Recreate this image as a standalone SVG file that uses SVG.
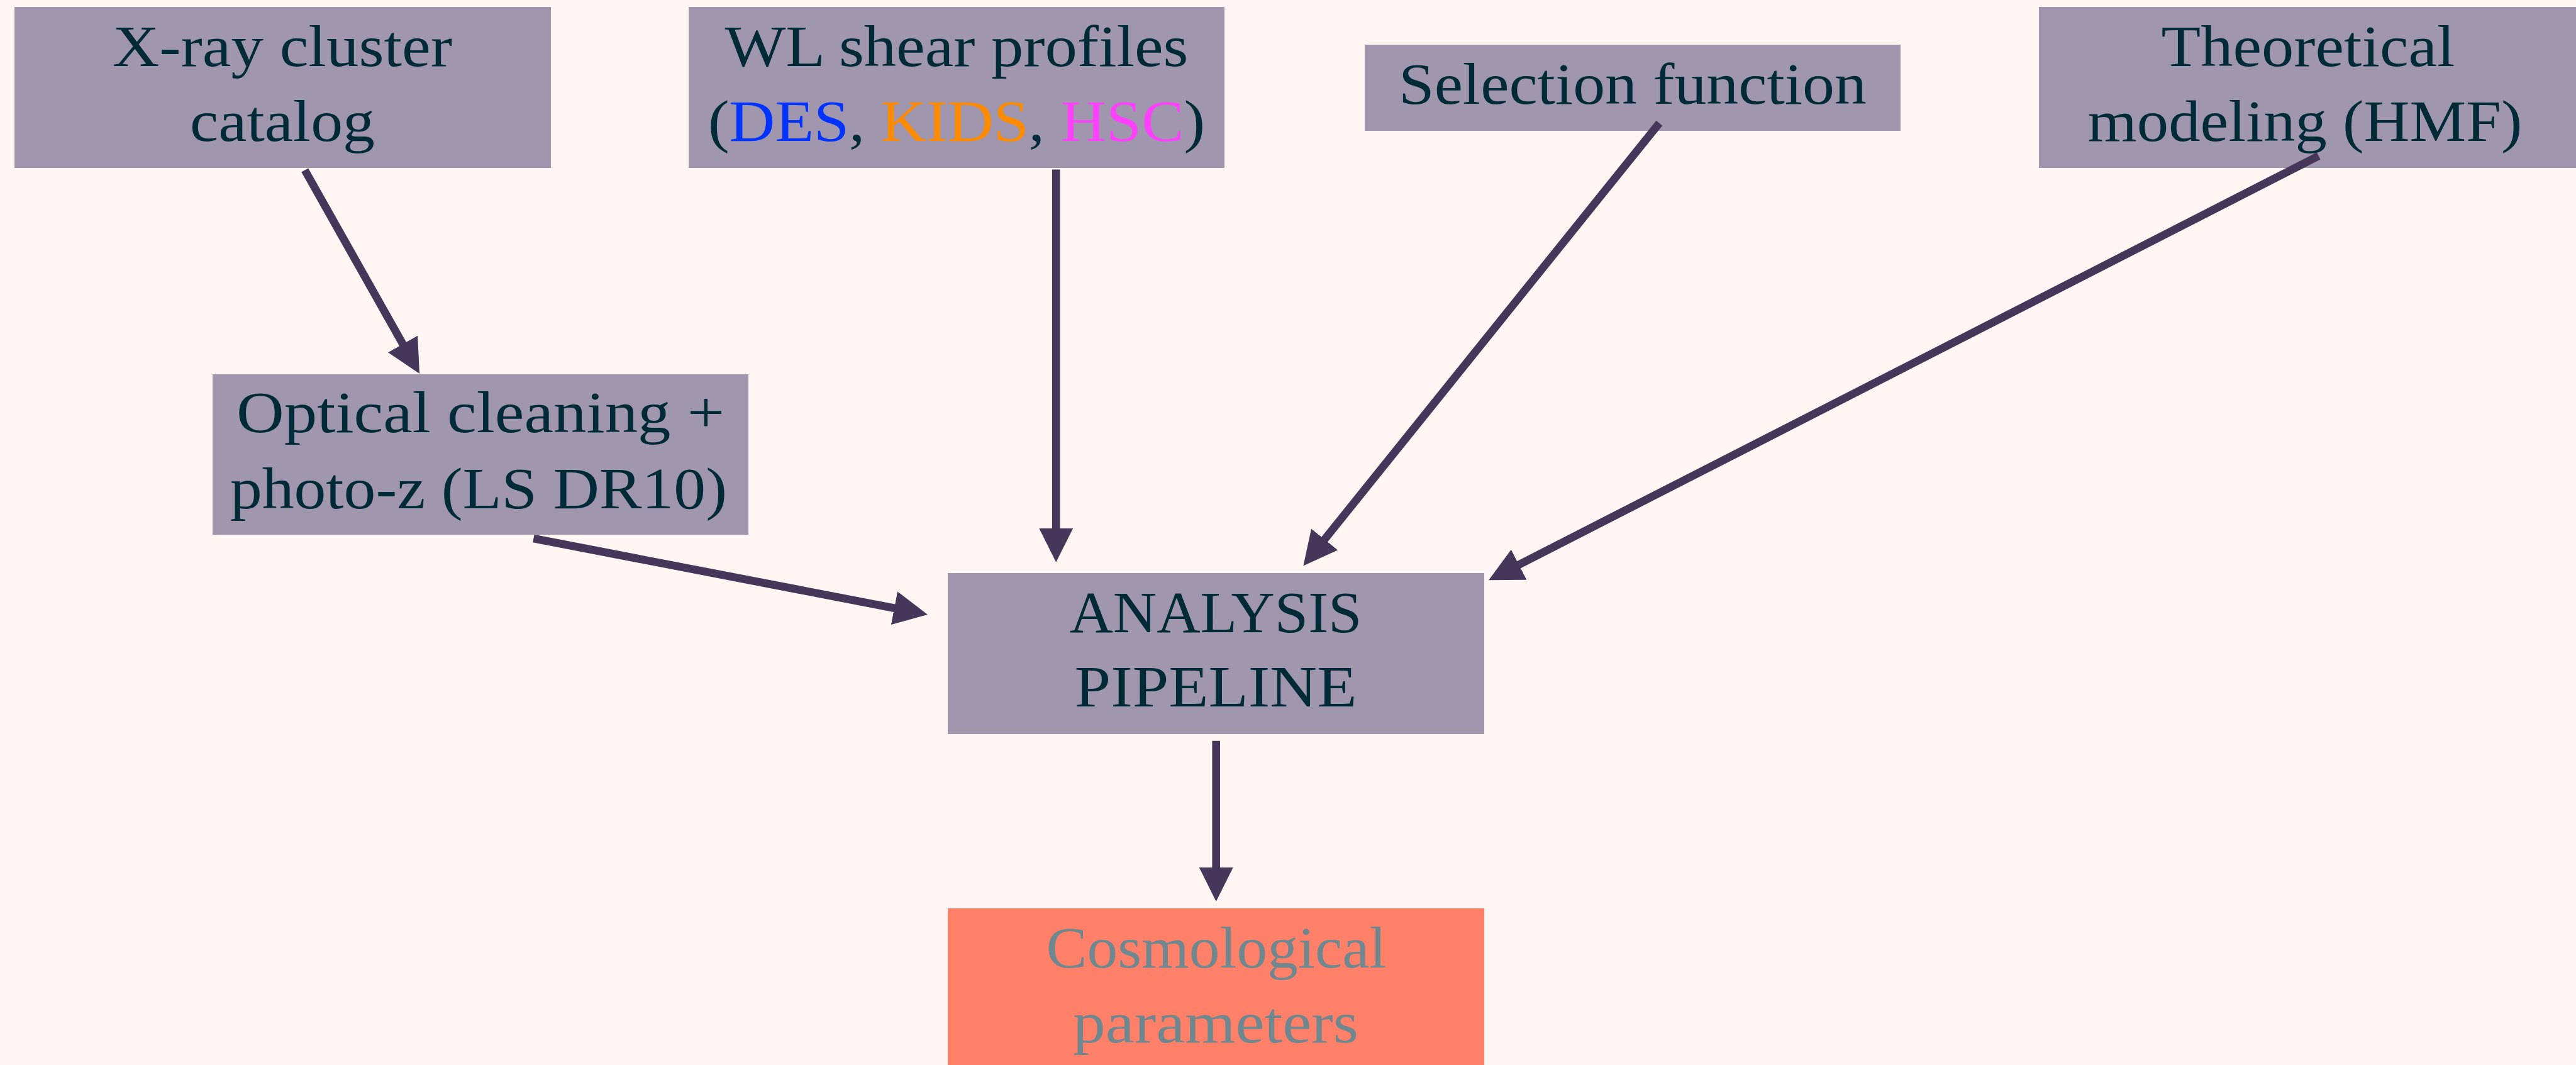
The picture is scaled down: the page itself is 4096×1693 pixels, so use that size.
<svg xmlns="http://www.w3.org/2000/svg" width="4096" height="1693" viewBox="0 0 4096 1693">
<style>
.box{fill:#A096AD}
.out{fill:#FF8068}
.t{font-family:"Liberation Serif","Times New Roman",serif;font-size:94px;fill:#002B36;text-anchor:middle}
.tc{font-family:"Liberation Serif","Times New Roman",serif;font-size:94px;fill:#6F878E;text-anchor:middle}
.edge{stroke:#46365A;stroke-width:12.6;fill:none;marker-end:url(#ah)}
</style>
<defs>
<marker id="ah" markerUnits="userSpaceOnUse" markerWidth="54" markerHeight="54" viewBox="0 0 54 54" refX="24" refY="27" orient="auto">
<path d="M0,0 L54,27 L0,54 Z" fill="#46365A"/>
</marker>
</defs>
<rect width="4096" height="1693" fill="#FFF5F2"/>
<g id="xray">
<rect class="box" x="23" y="11" width="853" height="256"/>
<text class="t" x="449" y="105" textLength="540" lengthAdjust="spacingAndGlyphs">X-ray cluster</text>
<text class="t" x="449" y="224" textLength="294" lengthAdjust="spacingAndGlyphs">catalog</text>
</g>
<g id="wl">
<rect class="box" x="1095" y="11" width="852" height="256"/>
<text class="t" x="1521" y="105" textLength="737" lengthAdjust="spacingAndGlyphs">WL shear profiles</text>
<text class="t" x="1521" y="224" textLength="790" lengthAdjust="spacingAndGlyphs">(<tspan fill="#0033FF">DES</tspan>, <tspan fill="#FF8C00">KIDS</tspan>, <tspan fill="#FF40FF">HSC</tspan>)</text>
</g>
<g id="selection">
<rect class="box" x="2170" y="71" width="852" height="137"/>
<text class="t" x="2596" y="165" textLength="744" lengthAdjust="spacingAndGlyphs">Selection function</text>
</g>
<g id="theory">
<rect class="box" x="3242" y="11" width="854" height="256"/>
<text class="t" x="3670" y="105" textLength="467" lengthAdjust="spacingAndGlyphs">Theoretical</text>
<text class="t" x="3665" y="224" textLength="691" lengthAdjust="spacingAndGlyphs">modeling (HMF)</text>
</g>
<g id="optical">
<rect class="box" x="338" y="595" width="852" height="255"/>
<text class="t" x="764" y="687" textLength="776" lengthAdjust="spacingAndGlyphs">Optical cleaning +</text>
<text class="t" x="761" y="808" textLength="790" lengthAdjust="spacingAndGlyphs">photo-z (LS DR10)</text>
</g>
<g id="analysis">
<rect class="box" x="1507" y="911" width="853" height="256"/>
<text class="t" x="1933" y="1005" textLength="465" lengthAdjust="spacingAndGlyphs">ANALYSIS</text>
<text class="t" x="1933" y="1123" textLength="449" lengthAdjust="spacingAndGlyphs">PIPELINE</text>
</g>
<g id="cosmo">
<rect class="out" x="1507" y="1444" width="853" height="256"/>
<text class="tc" x="1934" y="1538" textLength="541" lengthAdjust="spacingAndGlyphs">Cosmological</text>
<text class="tc" x="1933" y="1657" textLength="454" lengthAdjust="spacingAndGlyphs">parameters</text>
</g>
<g id="connectors">
<line class="edge" x1="484.7" y1="270.5" x2="652.3" y2="567.8"/>
<line class="edge" x1="1679.2" y1="269.6" x2="1679.2" y2="863.8"/>
<line class="edge" x1="2638.4" y1="195.7" x2="2091.1" y2="876.2"/>
<line class="edge" x1="3686.8" y1="247.8" x2="2393.8" y2="908.6"/>
<line class="edge" x1="1933.7" y1="1177.7" x2="1933.7" y2="1403"/>
<line class="edge" x1="848.4" y1="856" x2="1445.5" y2="971.2"/>
</g>
</svg>
